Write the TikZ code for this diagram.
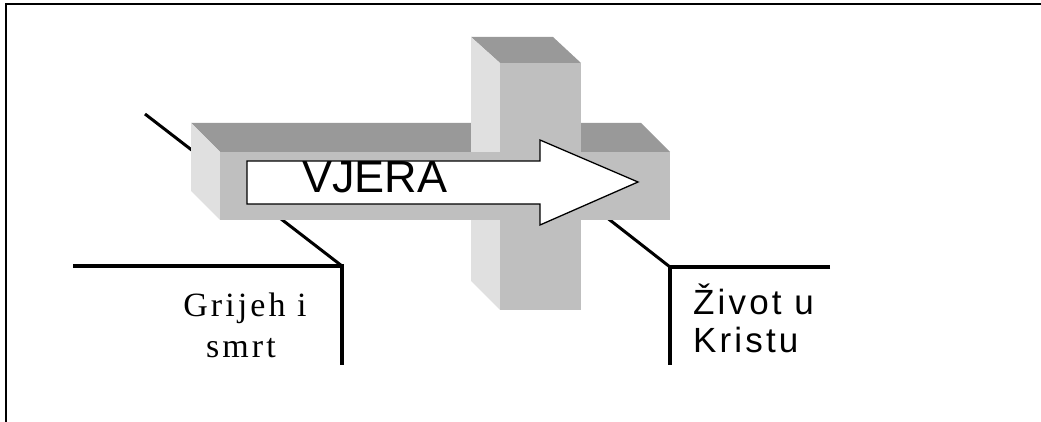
\documentclass[tikz,border=0pt]{standalone}
\usepackage{fontspec}
\setmainfont{Liberation Serif}
\newfontfamily\arrowfont{Liberation Sans}
\newfontfamily\sansspaced[LetterSpace=9]{Liberation Sans}
\newfontfamily\serifspaced[LetterSpace=9]{Liberation Serif}
\definecolor{topgray}{gray}{0.6}
\definecolor{sidegray}{gray}{0.88}
\definecolor{frontgray}{gray}{0.75}
\tikzset{
  frame line/.style={line width=2pt},
  path line/.style={line width=3pt},
  corner line/.style={line width=4pt, line join=miter},
  top face/.style={fill=topgray},
  side face/.style={fill=sidegray},
  front face/.style={fill=frontgray},
  faith arrow/.style={draw, fill=white, line width=1.3pt, line join=miter}
}
\begin{document}
\begin{tikzpicture}[x=1pt, y=-1pt]
  \useasboundingbox (0,0) rectangle (1041,422);
  \draw[frame line] (5.5,422) -- (5.5,4) -- (1041,4);

  % lines behind the cross
  \coordinate (sinTop) at (145,114);
  \coordinate (sinCorner) at (342,266);
  \coordinate (sinLeft) at (73,266);
  \coordinate (sinFoot) at (342,365);
  \coordinate (lifeTop) at (560,181);
  \coordinate (lifeCorner) at (670,267);
  \coordinate (lifeRight) at (830,267);
  \coordinate (lifeFoot) at (670,365);
  \draw[path line] (sinTop) -- (sinCorner);
  \draw[path line] (lifeTop) -- (lifeCorner);
  \draw[corner line] (sinLeft) -- (sinCorner) -- (sinFoot);
  \draw[corner line] (lifeRight) -- (lifeCorner) -- (lifeFoot);

  % cross
  \fill[top face] (191,123) -- (641,123) -- (670,152) -- (220,152) -- cycle;
  \fill[side face] (191,123) -- (220,152) -- (220,220) -- (191,191) -- cycle;
  \fill[top face] (471,37) -- (553,37) -- (581,63) -- (500,63) -- cycle;
  \fill[side face] (471,37) -- (500,63) -- (500,310) -- (471,281) -- cycle;
  \fill[front face] (500,63) rectangle (581,310);
  \fill[front face] (220,152) rectangle (670,220);

  % arrow
  \draw[faith arrow] (247,161) -- (540,161) -- (540,140) -- (638,182)
    -- (540,225) -- (540,204) -- (247,204) -- cycle;
  \node[anchor=base west, inner sep=0pt, font=\arrowfont\fontsize{45}{54}\selectfont]
    (faith) at (302,193) {VJERA};

  % labels
  \node[anchor=base, inner sep=0pt, font=\serifspaced\fontsize{34}{41}\selectfont]
    (sinA) at (245,316) {Grijeh i};
  \node[anchor=base, inner sep=0pt, font=\serifspaced\fontsize{34}{41}\selectfont]
    (sinB) at (241,357) {smrt};
  \node[anchor=base west, inner sep=0pt, font=\sansspaced\fontsize{35}{38}\selectfont]
    (lifeA) at (693,314) {Život u};
  \node[anchor=base west, inner sep=0pt, font=\sansspaced\fontsize{35}{38}\selectfont]
    (lifeB) at (693,352) {Kristu};
\end{tikzpicture}
\end{document}
